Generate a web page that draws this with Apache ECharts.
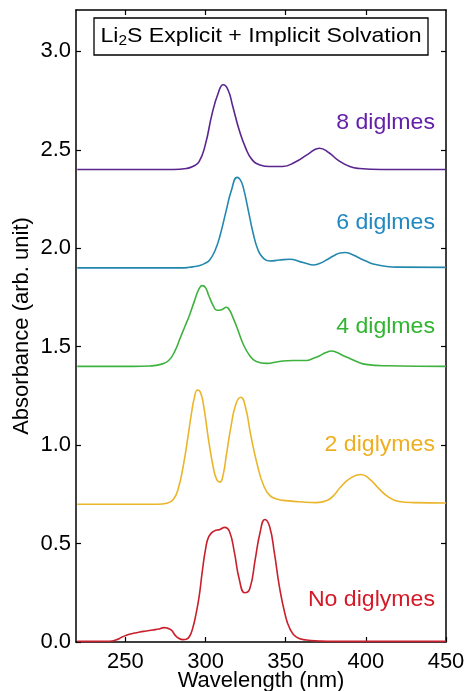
<!DOCTYPE html>
<html>
<head>
<meta charset="utf-8">
<script src="https://cdn.jsdelivr.net/npm/echarts@6/dist/echarts.min.js"></script>
<style>
  html, body { margin: 0; padding: 0; background: #fff; }
  #chart { width: 467px; height: 691px; }
</style>
</head>
<body>
<div id="chart"></div>
<script>
// Simulated absorption spectra of Li2S with explicit + implicit solvation,
// each curve offset vertically by its diglyme count.

const xTicks = [250, 300, 350, 400, 450];
const yTicks = [0, 0.5, 1.0, 1.5, 2.0, 2.5, 3.0];

// 8 diglymes (offset 2.4)
const wl8 = [220, 280, 288, 292, 296, 300, 304, 308, 311, 314, 317, 321, 325, 329, 334, 340, 348, 356, 364, 371, 377, 383, 390, 396, 410, 450];
const ab8 = [2.40, 2.40, 2.405, 2.415, 2.44, 2.53, 2.68, 2.79, 2.83, 2.805, 2.72, 2.60, 2.51, 2.45, 2.423, 2.415, 2.415, 2.438, 2.478, 2.508, 2.485, 2.445, 2.415, 2.405, 2.40, 2.40];

// 6 diglymes (offset 1.9)
const wl6 = [220, 285, 290, 293, 296.4, 300, 302.6, 306, 308.9, 313, 316.2, 319.7, 321.5, 323.4, 326.6, 329.7, 332.8, 336, 340, 346, 352.6, 358.8, 363, 367, 371, 375.4, 380, 384, 387, 391, 396, 400, 404.6, 413, 420, 450];
const ab6 = [1.90, 1.90, 1.903, 1.907, 1.912, 1.925, 1.94, 1.99, 2.06, 2.195, 2.296, 2.36, 2.35, 2.313, 2.195, 2.076, 1.99, 1.95, 1.935, 1.94, 1.944, 1.932, 1.922, 1.915, 1.922, 1.94, 1.962, 1.976, 1.978, 1.97, 1.95, 1.935, 1.92, 1.907, 1.904, 1.903];

// 4 diglymes (offset 1.4)
const wl4 = [220, 255, 265, 272, 277, 281, 284, 287, 290, 293, 296, 298, 300, 302, 305, 307, 310, 313, 315, 317, 319.5, 323.4, 327.6, 331.7, 338, 346, 354.6, 363, 367, 371.3, 375, 378.6, 382, 386, 390, 395, 400, 413, 450];
const ab4 = [1.40, 1.40, 1.402, 1.41, 1.43, 1.48, 1.54, 1.60, 1.66, 1.73, 1.795, 1.81, 1.80, 1.76, 1.705, 1.685, 1.688, 1.70, 1.685, 1.65, 1.60, 1.515, 1.454, 1.425, 1.415, 1.425, 1.43, 1.43, 1.44, 1.454, 1.47, 1.478, 1.47, 1.454, 1.44, 1.422, 1.41, 1.403, 1.40];

// 2 diglymes (offset 0.7)
const wl2 = [220, 270, 276, 280, 283, 286, 289, 291, 293, 295, 297, 299, 302, 305, 307, 309, 311, 313, 316, 319, 322, 325, 328, 332, 336, 340, 345, 350, 359, 369, 376, 380, 384, 390, 397, 402, 408, 414, 420, 430, 450];
const ab2 = [0.70, 0.70, 0.705, 0.725, 0.78, 0.89, 1.04, 1.15, 1.24, 1.28, 1.265, 1.19, 1.02, 0.88, 0.825, 0.812, 0.85, 0.95, 1.10, 1.21, 1.243, 1.19, 1.06, 0.91, 0.80, 0.745, 0.725, 0.718, 0.712, 0.708, 0.72, 0.745, 0.785, 0.83, 0.851, 0.83, 0.78, 0.737, 0.715, 0.708, 0.706];

// No diglymes (offset 0)
const wl0 = [220, 230, 240, 244, 248, 251, 255, 259, 263, 267, 271, 274, 276, 278.7, 281, 283, 286, 288, 290, 292, 294, 296, 298, 300, 302, 305, 309, 312, 315, 318, 321, 324.5, 327.6, 331, 334, 337, 340, 343, 346, 349.5, 352.6, 356.7, 363, 371, 380, 450];
const ab0 = [0.003, 0.003, 0.004, 0.01, 0.025, 0.035, 0.044, 0.051, 0.056, 0.061, 0.066, 0.073, 0.071, 0.06, 0.035, 0.02, 0.012, 0.014, 0.028, 0.07, 0.14, 0.23, 0.36, 0.47, 0.535, 0.562, 0.572, 0.582, 0.56, 0.455, 0.32, 0.25, 0.27, 0.42, 0.555, 0.622, 0.585, 0.45, 0.285, 0.145, 0.068, 0.025, 0.01, 0.005, 0.003, 0.003];

const seriesDefs = [
  { name: 'No diglymes', wl: wl0, ab: ab0, color: '#c8202c', text: '#d41a28', labelY: 600 },
  { name: '2 diglymes',  wl: wl2, ab: ab2, color: '#ebb52a', text: '#eeae22', labelY: 445 },
  { name: '4 diglmes',   wl: wl4, ab: ab4, color: '#3eb23e', text: '#2fb52f', labelY: 327 },
  { name: '6 diglmes',   wl: wl6, ab: ab6, color: '#2388ad', text: '#2288c0', labelY: 223 },
  { name: '8 diglmes',   wl: wl8, ab: ab8, color: '#5a2590', text: '#6420a8', labelY: 123 }
];

const FONT = '"Liberation Sans", Arial, sans-serif';
const chart = echarts.init(document.getElementById('chart'), null, { renderer: 'canvas' });

const axisLine = { show: true, onZero: false, lineStyle: { color: '#000', width: 1.5 } };

chart.setOption({
  backgroundColor: '#fff',
  animation: false,
  grid: { left: 76, right: 21, top: 10, bottom: 49, containLabel: false, outerBoundsMode: 'none' },
  xAxis: [
    {
      type: 'value', min: 219.2, max: 450,
      name: 'Wavelength (nm)', nameLocation: 'middle', nameGap: 28, nameMoveOverlap: false,
      nameTextStyle: { fontFamily: FONT, fontSize: 22, color: '#000' },
      axisLine: axisLine,
      axisTick: { show: true, inside: true, length: 5, customValues: xTicks, lineStyle: { color: '#000', width: 1.2 } },
      axisLabel: { customValues: xTicks, margin: 9, fontFamily: FONT, fontSize: 22, color: '#000' },
      splitLine: { show: false }
    },
    {
      type: 'value', min: 219.2, max: 450, position: 'top',
      axisLine: axisLine,
      axisTick: { show: true, inside: true, length: 5, customValues: [250, 300, 350, 400], lineStyle: { color: '#000', width: 1.2 } },
      axisLabel: { show: false },
      splitLine: { show: false }
    }
  ],
  yAxis: [
    {
      type: 'value', min: 0, max: 3.21,
      name: 'Absorbance (arb. unit)', nameLocation: 'middle', nameGap: 43, nameMoveOverlap: false,
      nameTextStyle: { fontFamily: FONT, fontSize: 22, color: '#000' },
      axisLine: axisLine,
      axisTick: { show: true, inside: true, length: 5, customValues: yTicks, lineStyle: { color: '#000', width: 1.2 } },
      axisLabel: { customValues: yTicks, margin: 5, fontFamily: FONT, fontSize: 22, color: '#000',
                   formatter: v => v.toFixed(1) },
      splitLine: { show: false }
    },
    {
      type: 'value', min: 0, max: 3.21, position: 'right',
      axisLine: axisLine,
      axisTick: { show: true, inside: true, length: 5, customValues: yTicks.slice(1), lineStyle: { color: '#000', width: 1.2 } },
      axisLabel: { show: false },
      splitLine: { show: false }
    }
  ],
  series: seriesDefs.map(s => ({
    name: s.name,
    type: 'line',
    xAxisIndex: 0,
    yAxisIndex: 0,
    data: s.wl.map((w, i) => [w, s.ab[i]]),
    showSymbol: false,
    smooth: 0.5,
    lineStyle: { color: s.color, width: 1.6 },
    z: 3
  })),
  graphic: [
    {
      type: 'rect',
      shape: { x: 94, y: 18, width: 334, height: 37 },
      style: { fill: '#fff', stroke: '#000', lineWidth: 1.3 },
      z: 10
    },
    {
      type: 'text',
      x: 261, y: 36.5,
      scaleX: 1.1,
      style: {
        text: '{m|Li}{s|2}{m|S Explicit + Implicit Solvation}',
        align: 'center', verticalAlign: 'middle',
        rich: {
          m: { fontFamily: FONT, fontSize: 21, fill: '#000' },
          s: { fontFamily: FONT, fontSize: 14, fill: '#000', padding: [10, 0, 0, 0] }
        }
      },
      z: 11
    }
  ].concat(seriesDefs.map(s => ({
    type: 'text',
    x: 435, y: s.labelY,
    scaleX: 1.05,
    style: {
      text: s.name, align: 'right', verticalAlign: 'middle',
      fontFamily: FONT, fontSize: 22, fill: s.text
    },
    z: 11
  })))
});
</script>
</body>
</html>
